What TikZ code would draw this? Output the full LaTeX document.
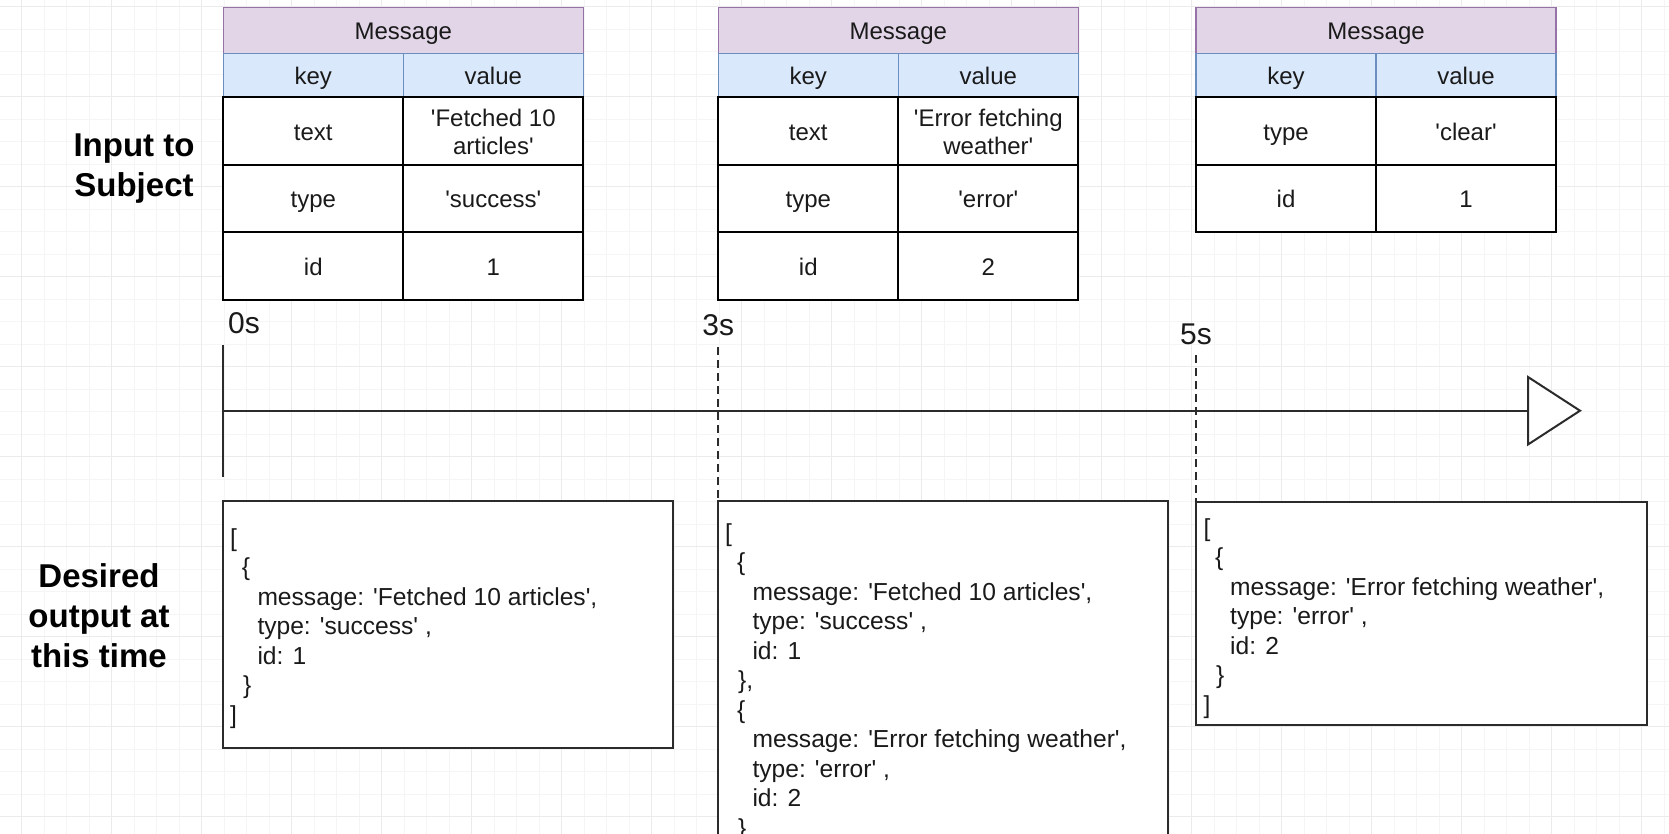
\documentclass[tikz,border=0pt]{standalone}
\usepackage{fontspec}
\setmainfont{Liberation Sans}
\usetikzlibrary{calc}
\definecolor{hdrfill}{HTML}{E1D5E7}
\definecolor{hdrdraw}{HTML}{9673A6}
\definecolor{keyfill}{HTML}{DAE8FC}
\definecolor{keydraw}{HTML}{6C8EBF}
\definecolor{gridminor}{HTML}{F5F5F5}
\definecolor{gridmajor}{HTML}{EBEBEB}
\definecolor{ink}{HTML}{1A1A1A}
\definecolor{boxdraw}{HTML}{2B2B2B}
\newcommand\sq{\textquotesingle}
\begin{document}
\begin{tikzpicture}[x=1pt,y=-1pt,
  cellbase/.style={rectangle, anchor=north west, outer sep=0pt, inner sep=0pt,
    minimum width=180pt, text height=18pt, text depth=0pt,
    font=\fontsize{24}{28}\selectfont, text=ink},
  hdrcell/.style={cellbase, fill=hdrfill, draw=hdrdraw, line width=1.5pt,
    minimum width=360pt, minimum height=46pt},
  keycell/.style={cellbase, fill=keyfill, draw=keydraw, line width=1.5pt,
    minimum height=44.2pt},
  bodycell/.style={cellbase, fill=white, draw=black, line width=2pt,
    minimum height=67.5pt},
  twoline/.style={anchor=base, inner sep=0pt, font=\fontsize{24}{28}\selectfont, text=ink},
  outbox/.style={rectangle, anchor=north west, outer sep=0pt, inner sep=0pt,
    draw=boxdraw, fill=white, line width=2.2pt},
  codeline/.style={anchor=base west, inner sep=0pt, font=\fontsize{24.6}{29.5}\selectfont, text=ink},
  sidelabel/.style={anchor=base, inner sep=0pt, font=\bfseries\fontsize{33}{40}\selectfont, text=black},
  timelabel/.style={inner sep=0pt, font=\fontsize{30}{36}\selectfont, text=ink},
  axisline/.style={draw=boxdraw, line width=2pt},
  dashline/.style={draw=boxdraw, line width=2pt, dash pattern=on 8pt off 5pt}
]
\useasboundingbox (0,0) rectangle (1669,834);
\fill[white] (0,0) rectangle (1669,834);
% grid
\begin{scope}[line width=1pt]
\foreach \i in {0,...,74} \draw[gridminor] ({-0.8+22.5*\i},0) -- ({-0.8+22.5*\i},834);
\foreach \j in {0,...,37} \draw[gridminor] (0,{6.7+22.5*\j}) -- (1669,{6.7+22.5*\j});
\foreach \i in {0,...,18} \draw[gridmajor] ({21.7+90*\i},0) -- ({21.7+90*\i},834);
\foreach \j in {0,...,9} \draw[gridmajor] (0,{6.7+90*\j}) -- (1669,{6.7+90*\j});
\end{scope}

% side labels
\node[sidelabel] (in1) at (134,157) {Input to};
\node[sidelabel] (in2) at (134,197) {Subject};
\node[sidelabel] (de1) at (99,587) {Desired};
\node[sidelabel] (de2) at (99,627) {output at};
\node[sidelabel] (de3) at (99,667) {this time};

% ---- table 1
\node[hdrcell] (ah) at (223.3,7.3) {Message};
\node[keycell] (ak) at (223.3,53.3) {key};
\node[keycell] (av) at (403.3,53.3) {value};
\node[bodycell] (a1k) at (223.3,97.5) {text};
\node[bodycell] (a1v) at (403.3,97.5) {};
\node[twoline] (a1v1) at ($(a1v.center)+(0,-5)$) {\sq Fetched 10};
\node[twoline] (a1v2) at ($(a1v.center)+(0,23)$) {articles\sq};
\node[bodycell] (a2k) at (223.3,165) {type};
\node[bodycell] (a2v) at (403.3,165) {\sq success\sq};
\node[bodycell] (a3k) at (223.3,232.5) {id};
\node[bodycell] (a3v) at (403.3,232.5) {1};

% ---- table 2
\node[hdrcell] (bh) at (718.3,7.3) {Message};
\node[keycell] (bk) at (718.3,53.3) {key};
\node[keycell] (bv) at (898.3,53.3) {value};
\node[bodycell] (b1k) at (718.3,97.5) {text};
\node[bodycell] (b1v) at (898.3,97.5) {};
\node[twoline] (b1v1) at ($(b1v.center)+(0,-5)$) {\sq Error fetching};
\node[twoline] (b1v2) at ($(b1v.center)+(0,23)$) {weather\sq};
\node[bodycell] (b2k) at (718.3,165) {type};
\node[bodycell] (b2v) at (898.3,165) {\sq error\sq};
\node[bodycell] (b3k) at (718.3,232.5) {id};
\node[bodycell] (b3v) at (898.3,232.5) {2};

% ---- table 3
\node[hdrcell] (ch) at (1196,7.3) {Message};
\node[keycell] (ck) at (1196,53.3) {key};
\node[keycell] (cv) at (1376,53.3) {value};
\node[bodycell] (c1k) at (1196,97.5) {type};
\node[bodycell] (c1v) at (1376,97.5) {\sq clear\sq};
\node[bodycell] (c2k) at (1196,165) {id};
\node[bodycell] (c2v) at (1376,165) {1};

% ---- output boxes
\node[outbox, minimum width=449.7pt, minimum height=247pt] (o1) at (223.3,500.7) {};
\node[outbox, minimum width=449.7pt, minimum height=380pt] (o2) at (718.3,500.7) {};
\node[outbox, minimum width=450.7pt, minimum height=223.3pt] (o3) at (1196,501.7) {};

% ---- timeline
\node[timelabel, anchor=base west] (t0) at (228,333) {0s};
\node[timelabel, anchor=base] (t3) at (718.3,335) {3s};
\node[timelabel, anchor=base] (t5) at (1196,344) {5s};
\coordinate (l0top) at (223.3,345);
\coordinate (l0bot) at (223.3,477);
\coordinate (d3top) at (718.3,347);
\coordinate (d5top) at (1196,355);
\coordinate (ax0) at (223.3,410.7);
\coordinate (axend) at (1528,410.7);
\coordinate (triT) at (1528,377);
\coordinate (triB) at (1528,444.5);
\coordinate (triP) at (1580,410.7);
\draw[axisline] (l0top) -- (l0bot);
\draw[dashline] (d3top) -- (o2.north west);
\draw[dashline] (d5top) -- (o3.north west);
\draw[axisline] (ax0) -- (axend);
\draw[axisline, fill=white, line join=miter] (triT) -- (triP) -- (triB) -- cycle;

% ---- box 1 text
\node[codeline] (p1a) at (230,546) {[};
\node[codeline] (p1b) at (241.7,575.5) {\{};
\node[codeline] (p1c) at (257.3,605) {message: \sq Fetched 10 articles\sq,};
\node[codeline] (p1d) at (257.3,634.5) {type: \sq success\sq\ ,};
\node[codeline] (p1e) at (257.3,664) {id: 1};
\node[codeline] (p1f) at (243,693.5) {\}};
\node[codeline] (p1g) at (230,723) {]};

% ---- box 2 text
\node[codeline] (p2a) at (725,541) {[};
\node[codeline] (p2b) at (737,570.5) {\{};
\node[codeline] (p2c) at (752.3,600) {message: \sq Fetched 10 articles\sq,};
\node[codeline] (p2d) at (752.3,629.5) {type: \sq success\sq\ ,};
\node[codeline] (p2e) at (752.3,659) {id: 1};
\node[codeline] (p2f) at (738,688.5) {\},};
\node[codeline] (p2g) at (737,718) {\{};
\node[codeline] (p2h) at (752.3,747.5) {message: \sq Error fetching weather\sq,};
\node[codeline] (p2i) at (752.3,777) {type: \sq error\sq\ ,};
\node[codeline] (p2j) at (752.3,806.5) {id: 2};
\node[codeline] (p2k) at (738,836) {\}};

% ---- box 3 text
\node[codeline] (p3a) at (1203.3,536) {[};
\node[codeline] (p3b) at (1215,565.5) {\{};
\node[codeline] (p3c) at (1230,595) {message: \sq Error fetching weather\sq,};
\node[codeline] (p3d) at (1230,624.5) {type: \sq error\sq\ ,};
\node[codeline] (p3e) at (1230,654) {id: 2};
\node[codeline] (p3f) at (1216,683.5) {\}};
\node[codeline] (p3g) at (1203.3,713) {]};
\end{tikzpicture}
\end{document}
